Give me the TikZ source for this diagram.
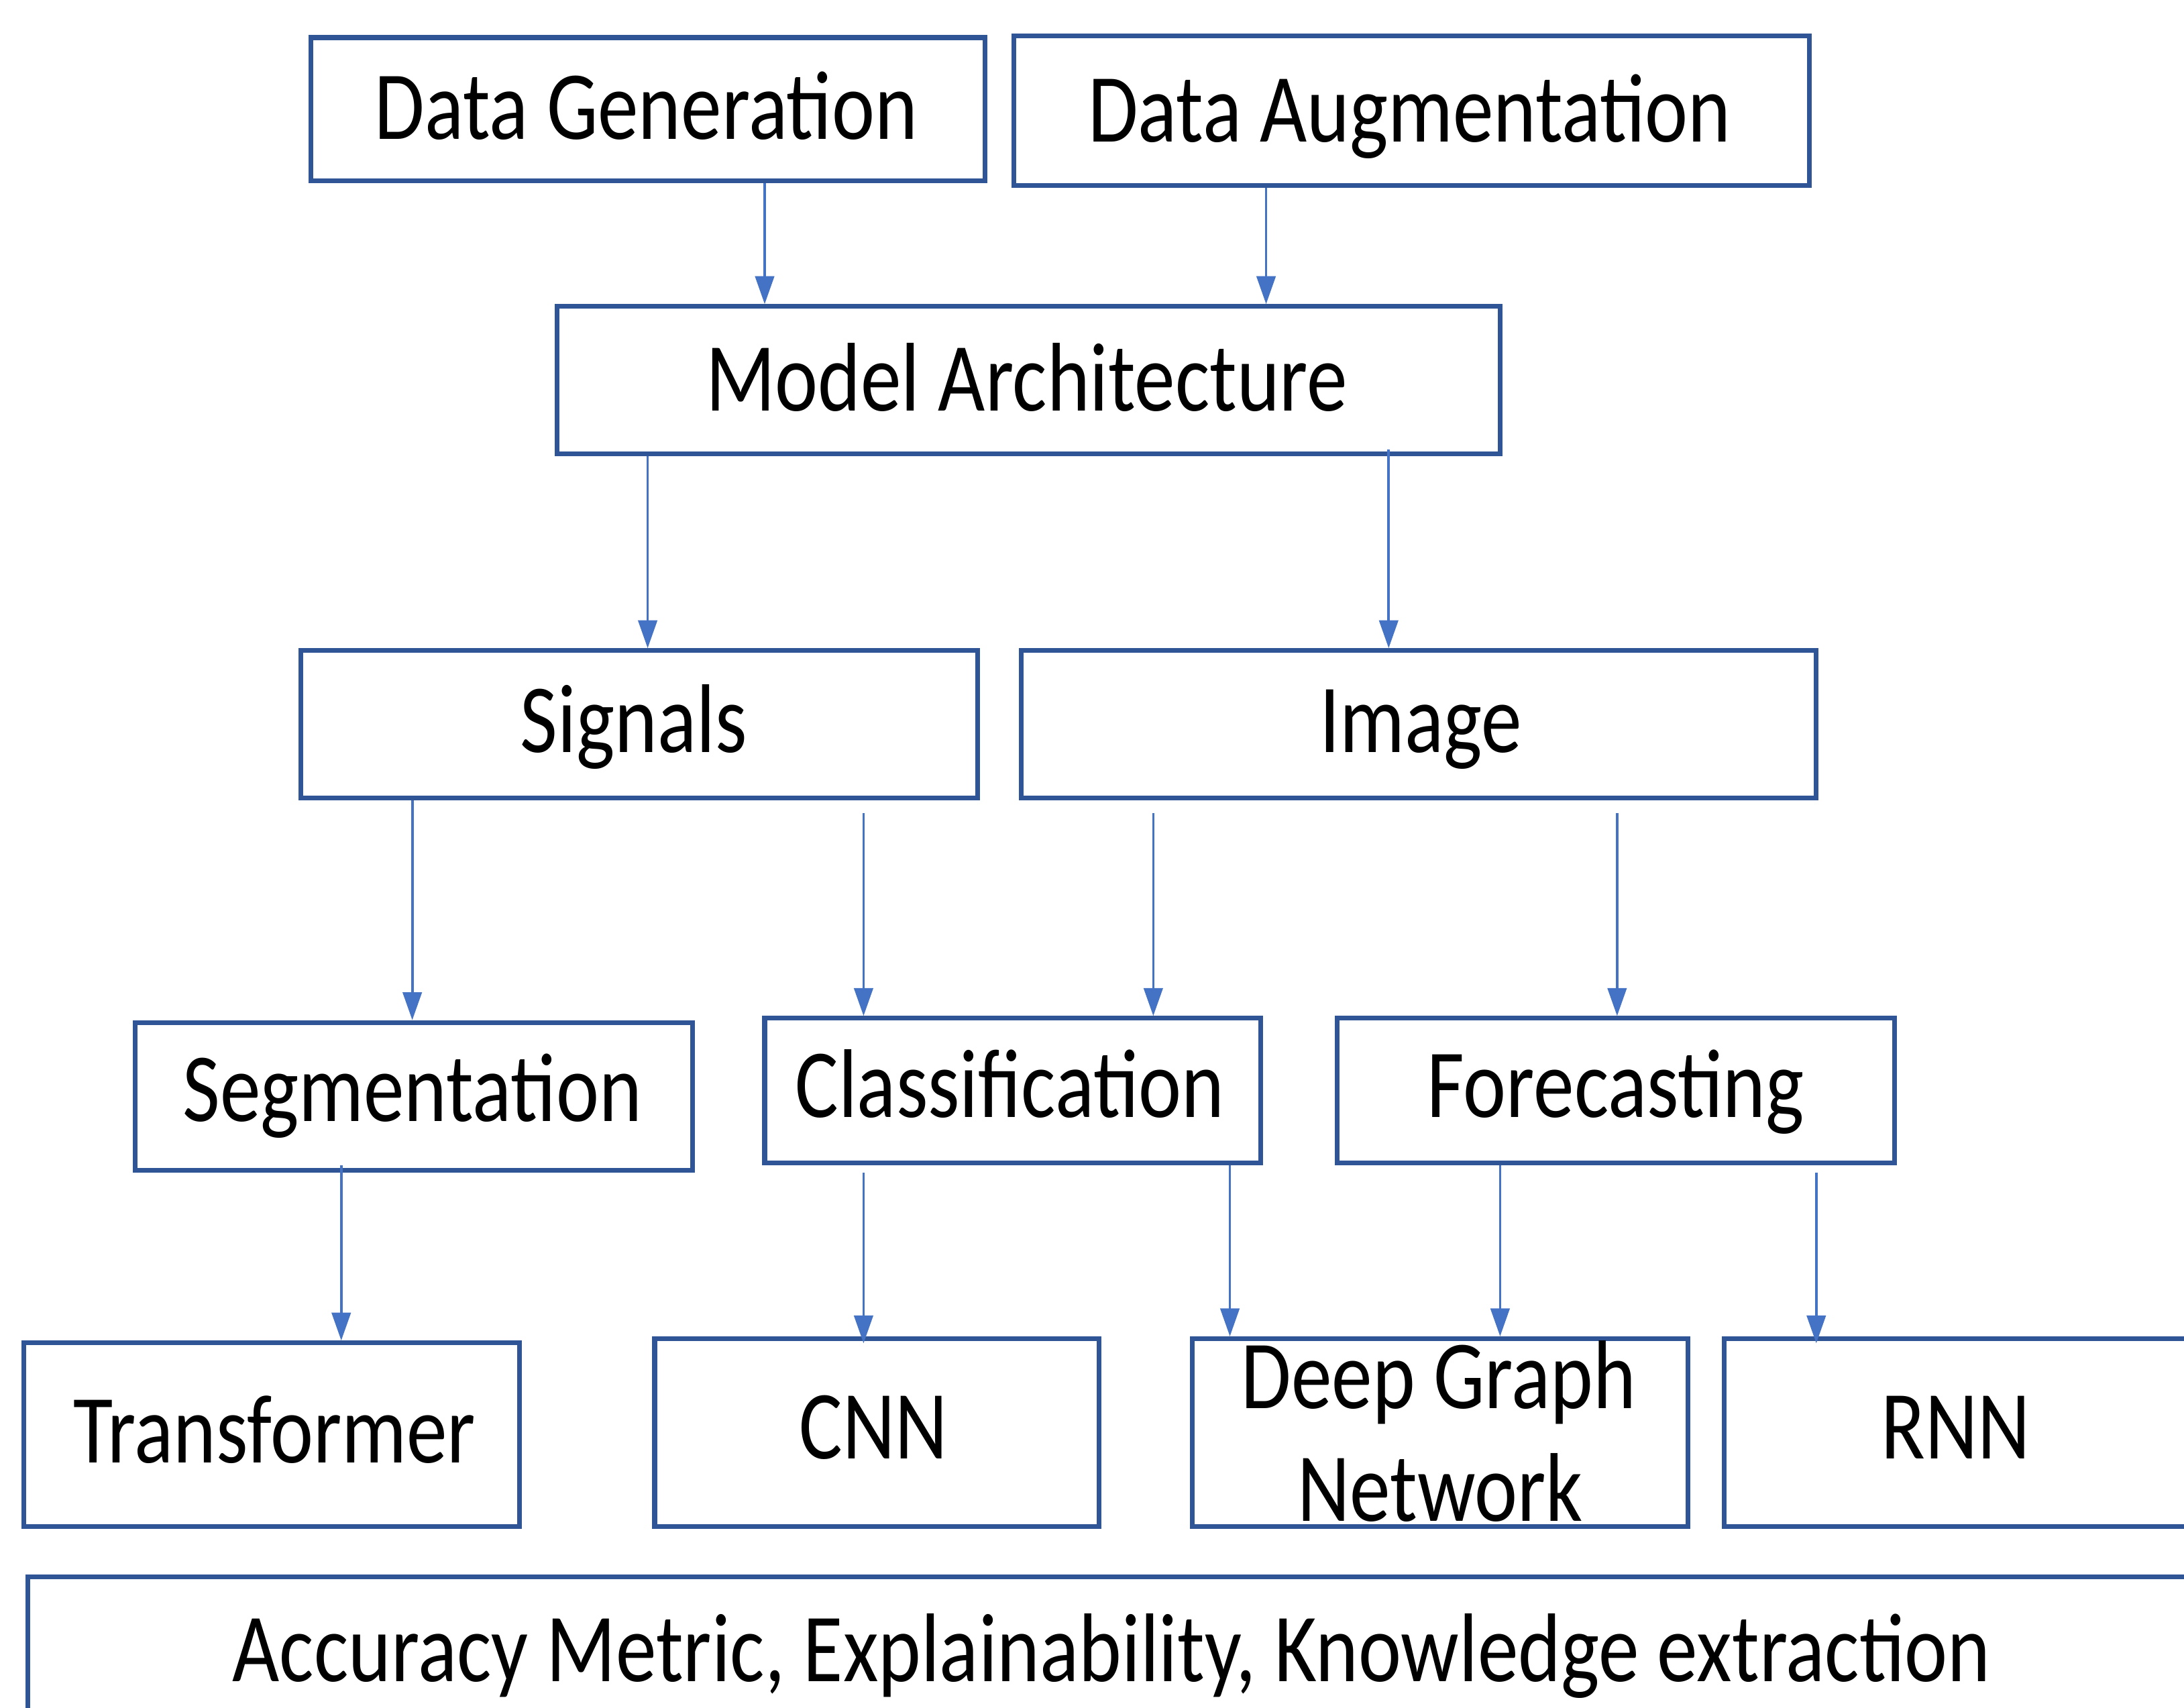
\documentclass[tikz,border=0pt]{standalone}
\usepackage{fontspec}
\setmainfont{Carlito}
\usetikzlibrary{arrows.meta}
\definecolor{boxblue}{HTML}{2F5597}
\definecolor{arrblue}{HTML}{4472C4}
\newcommand\tallt[1]{\scalebox{1}[1.2]{#1}}
\begin{document}
\begin{tikzpicture}[x=0.25pt,y=-0.25pt,
  box/.style={draw=boxblue, line width=0.85pt, inner sep=0pt, fill=none},
  lbl/.style={inner sep=0pt, anchor=base, font=\fontsize{14.6}{17}\selectfont},
  arr/.style={draw=arrblue, line width=0.45pt, -{Triangle[length=5pt,width=3.4pt]}}]
\clip (0,0) rectangle (1568,1226);
\useasboundingbox (0,0) rectangle (1568,1226);
% boxes
\node[box, minimum width=121pt, minimum height=25.75pt] (dg) at (465,78.5) {};
\node[box, minimum width=142.75pt, minimum height=26.75pt] (da) at (1013.5,79.5) {};
\node[box, minimum width=169.25pt, minimum height=26.5pt] (ma) at (738.5,273) {};
\node[box, minimum width=121.5pt, minimum height=26.5pt] (sig) at (459,520) {};
\node[box, minimum width=142.75pt, minimum height=26.5pt] (img) at (1018.5,520) {};
\node[box, minimum width=100pt, minimum height=26.5pt] (seg) at (297,787) {};
\node[box, minimum width=89pt, minimum height=26pt] (cls) at (727,783) {};
\node[box, minimum width=100pt, minimum height=26pt] (fc) at (1160,783) {};
\node[box, minimum width=89pt, minimum height=33pt] (tr) at (195,1030) {};
\node[box, minimum width=79.75pt, minimum height=33.75pt] (cnn) at (629.5,1028.5) {};
\node[box, minimum width=89pt, minimum height=33.75pt] (dgn) at (1034,1028.5) {};
\node[box, minimum width=100.5pt, minimum height=33.75pt] (rnn) at (1439,1028.5) {};
\node[box, minimum width=405pt, minimum height=42pt] (acc) at (830,1216) {};
% labels
\node[lbl] (dgt) at (464,100) {\tallt{Data Generation}};
\node[lbl] (dat) at (1012,102) {\tallt{Data Augmentation}};
\node[lbl] (mat) at (737,295) {\tallt{Model Architecture}};
\node[lbl] (sigt) at (455,540) {\tallt{Signals}};
\node[lbl] (imgt) at (1020,540) {\tallt{Image}};
\node[lbl] (segt) at (296,805) {\tallt{Segmentation}};
\node[lbl] (clst) at (725,802) {\tallt{Classification}};
\node[lbl] (fct) at (1160,802) {\tallt{Forecasting}};
\node[lbl] (trt) at (197,1050) {\tallt{Transformer}};
\node[lbl] (cnnt) at (627,1047) {\tallt{CNN}};
\node[lbl] (dgnt1) at (1033,1011) {\tallt{Deep Graph}};
\node[lbl] (dgnt2) at (1034,1092) {\tallt{Network}};
\node[lbl] (rnnt) at (1404,1047) {\tallt{RNN}};
\node[lbl] (acct) at (798,1207) {\tallt{Accuracy Metric, Explainability, Knowledge extraction}};
% arrow columns
\coordinate (a1) at (549,0);
\coordinate (a2) at (909,0);
\coordinate (a3) at (465,0);
\coordinate (a4) at (997,0);
\coordinate (a5) at (296,0);
\coordinate (a6) at (620,0);
\coordinate (a7) at (828,0);
\coordinate (a8) at (1161,0);
\coordinate (a9) at (245,0);
\coordinate (a11) at (883,0);
\coordinate (a12) at (1077,0);
\coordinate (a13) at (1304,0);
% arrows
\draw[arr] (dg.south -| a1) -- (ma.north -| a1);
\draw[arr] (da.south -| a2) -- (ma.north -| a2);
\draw[arr] (ma.south -| a3) -- (sig.north -| a3);
\draw[arr] ([yshift=1.25pt]ma.south -| a4) -- (img.north -| a4);
\draw[arr] (sig.south -| a5) -- (seg.north -| a5);
\draw[arr] ([yshift=-2.25pt]sig.south -| a6) -- (cls.north -| a6);
\draw[arr] ([yshift=-2.25pt]img.south -| a7) -- (cls.north -| a7);
\draw[arr] ([yshift=-2.25pt]img.south -| a8) -- (fc.north -| a8);
\draw[arr] ([yshift=1.25pt]seg.south -| a9) -- (tr.north -| a9);
\draw[arr] ([yshift=-1.25pt]cls.south -| a6) -- ([yshift=-1.25pt]cnn.north -| a6);
\draw[arr] (cls.south -| a11) -- (dgn.north -| a11);
\draw[arr] (fc.south -| a12) -- (dgn.north -| a12);
\draw[arr] ([yshift=-1.25pt]fc.south -| a13) -- ([yshift=-1.25pt]rnn.north -| a13);
\end{tikzpicture}
\end{document}
